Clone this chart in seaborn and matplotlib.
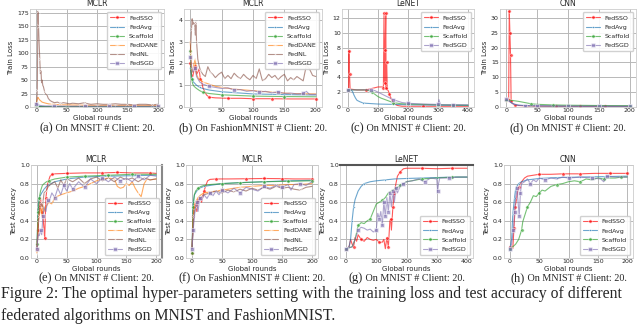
import matplotlib
matplotlib.use("Agg")
import matplotlib.pyplot as plt
import seaborn as sns

# ---------------- data ----------------
# (a) MCLR / MNIST train loss
a_sso_x = [0, 3, 6, 10, 20, 50, 200]
a_sso_y = [1.5, 1.0, 0.7, 0.5, 0.4, 0.3, 0.3]
a_avg_x = [0, 3, 6, 10, 20, 50, 200]
a_avg_y = [2.0, 1.3, 1.0, 0.8, 0.7, 0.6, 0.5]
a_scaf_x = [0, 3, 6, 10, 20, 50, 200]
a_scaf_y = [1.8, 0.9, 0.6, 0.5, 0.45, 0.4, 0.35]
a_dane_x = [0, 2, 3, 4, 6, 8, 10, 13, 16, 20, 25, 30, 40, 50, 70, 100, 130, 160, 200]
a_dane_y = [6, 14, 18, 16, 13, 11, 9, 8, 7, 6, 5, 5, 4, 4, 3.5, 3, 3, 3, 3]
a_nl_x = [0, 1, 2, 3, 4, 5, 6, 7, 8, 9, 10, 11, 12, 14, 16, 18, 20, 23, 26, 30, 35, 40, 45, 50, 55,
          60, 70, 80, 85, 90, 100, 110, 120, 130, 140, 150, 160, 170, 180, 190, 200]
a_nl_y = [3, 8, 32, 178, 150, 118, 90, 62, 68, 45, 50, 40, 38, 28, 24, 22, 16, 12, 10, 8, 9, 7, 8, 7, 6,
          7, 6, 8, 6, 5, 6, 5, 5, 6, 5, 5, 4, 5, 5, 4, 5]
a_sgd_x = [0, 2, 4, 6, 10, 15, 20, 30, 50, 80, 120, 160, 200]
a_sgd_y = [6, 5, 4, 3, 2.5, 2, 2, 1.8, 1.6, 1.5, 1.5, 1.4, 1.4]

# (b) MCLR / FashionMNIST train loss
b_sso_x = [0, 2, 4, 6, 8, 10, 12, 14, 16, 18, 20, 23, 26, 30, 40, 60, 80, 100, 130, 160, 200]
b_sso_y = [2.0, 1.5, 1.4, 1.7, 1.9, 1.5, 1.6, 1.75, 1.3, 1.2, 0.9, 0.7, 0.55, 0.45, 0.42, 0.4, 0.4,
           0.38, 0.38, 0.37, 0.37]
b_avg_x = [0, 2, 5, 10, 15, 20, 30, 50, 75, 100, 150, 200]
b_avg_y = [1.8, 1.4, 1.15, 1.0, 0.9, 0.85, 0.78, 0.7, 0.65, 0.6, 0.57, 0.55]
b_scaf_x = [0, 1, 2, 4, 6, 10, 15, 20, 30, 50, 100, 150, 200]
b_scaf_y = [2.55, 1.8, 1.3, 1.05, 0.95, 0.85, 0.75, 0.68, 0.62, 0.56, 0.5, 0.48, 0.47]
b_dane_x = [0, 2, 4, 6, 8, 10, 13, 16, 20, 25, 30, 40, 50, 70, 100, 130, 160, 200]
b_dane_y = [3.0, 1.8, 1.6, 2.0, 2.2, 1.5, 1.3, 1.25, 1.15, 1.1, 1.05, 0.95, 0.9, 0.82, 0.75, 0.68, 0.62, 0.6]
b_nl_x = [0, 1, 2, 3, 4, 5, 6, 7, 8, 9, 10, 12, 14, 16, 18, 20, 24, 28, 32, 36, 40,
          45, 50, 55, 60, 65, 70, 75, 80, 85, 90, 95, 100, 105, 110, 115, 120, 125, 130, 135, 140,
          145, 150, 155, 160, 165, 170, 175, 180, 185, 190, 195, 200]
b_nl_y = [2.5, 3.0, 3.6, 4.05, 3.8, 3.9, 3.8, 3.85, 3.3, 3.9, 3.0, 2.2, 1.9, 1.7, 1.6, 1.5, 1.4, 1.85,
          1.6, 1.5, 1.35,
          1.5, 1.6, 1.3, 1.45, 1.3, 1.55, 1.4, 1.3, 1.5, 1.35, 1.25, 1.45, 1.3, 1.75, 1.2, 1.3, 1.5,
          1.35, 1.45, 1.25, 1.4, 1.5, 1.2, 1.35, 1.25, 1.4, 1.3, 1.2, 1.9, 1.75, 1.45, 1.4]
b_sgd_x = [0, 2, 4, 6, 8, 10, 15, 20, 25, 30, 40, 50, 60, 70, 80, 90, 100, 110, 120, 130, 140, 150,
           160, 170, 180, 185, 190, 200]
b_sgd_y = [2.3, 1.9, 1.6, 1.7, 1.8, 1.4, 1.15, 1.05, 1.0, 0.95, 0.9, 0.85, 0.88, 0.78, 0.8, 0.72, 0.75,
           0.68, 0.72, 0.65, 0.7, 0.62, 0.64, 0.6, 0.62, 0.72, 0.58, 0.58]

# (c) LeNET / MNIST train loss
c_sso_x = [0, 2, 3, 5, 7, 10, 30, 60, 80, 100, 115, 118, 120, 122, 124, 126, 127, 129, 131, 134, 138,
           145, 155, 165, 180, 200, 250, 300, 350, 400]
c_sso_y = [2.3, 2.4, 7.6, 4.5, 2.4, 2.4, 2.3, 2.3, 2.5, 2.7, 2.7, 2.6, 12.7, 3.2, 7.7, 12.6, 2.5, 6.0,
           2.3, 2.2, 1.8, 1.0, 0.4, 0.2, 0.1, 0.1, 0.1, 0.1, 0.1, 0.1]
c_avg_x = [0, 10, 15, 20, 25, 30, 40, 50, 60, 80, 100, 150, 200, 250, 300, 350, 400]
c_avg_y = [2.3, 2.3, 2.1, 1.6, 1.2, 0.9, 0.7, 0.55, 0.5, 0.45, 0.4, 0.35, 0.3, 0.28, 0.25, 0.22, 0.2]
c_scaf_x = [0, 30, 60, 70, 80, 90, 100, 110, 120, 130, 150, 175, 200, 250, 300, 350, 400]
c_scaf_y = [2.3, 2.3, 2.3, 2.2, 2.0, 1.7, 1.4, 1.2, 1.05, 0.9, 0.6, 0.45, 0.4, 0.35, 0.3, 0.28, 0.25]
c_sgd_x = [0, 30, 60, 75, 90, 100, 110, 120, 130, 140, 150, 165, 180, 200, 250, 300, 303, 306, 310,
           350, 400]
c_sgd_y = [2.3, 2.3, 2.3, 2.3, 2.2, 2.0, 1.8, 1.6, 1.4, 1.2, 1.0, 0.8, 0.6, 0.5, 0.4, 0.35, 1.0, 0.6,
           0.3, 0.3, 0.3]

# (d) CNN / MNIST train loss
d_sso_x = [0, 2, 4, 5, 6, 7, 8, 10, 15, 20, 30, 50, 80, 120, 160, 200]
d_sso_y = [2.3, 2.3, 2.2, 32.3, 25, 17.5, 2.0, 1.2, 0.6, 0.5, 0.4, 0.3, 0.25, 0.2, 0.2, 0.2]
d_avg_x = [0, 5, 10, 15, 20, 30, 50, 100, 150, 200]
d_avg_y = [2.3, 2.0, 1.2, 0.8, 0.6, 0.5, 0.4, 0.3, 0.28, 0.25]
d_scaf_x = [0, 10, 20, 30, 40, 50, 75, 100, 150, 200]
d_scaf_y = [2.3, 2.2, 1.9, 1.5, 1.1, 0.9, 0.7, 0.6, 0.5, 0.45]
d_sgd_x = [0, 3, 6, 10, 15, 20, 30, 50, 100, 150, 200]
d_sgd_y = [2.6, 2.4, 1.8, 1.2, 0.8, 0.6, 0.45, 0.35, 0.3, 0.28, 0.25]

# (e) MCLR / MNIST test accuracy
e_sso_x = [0, 2, 4, 6, 8, 10, 12, 13, 15, 18, 22, 26, 30, 50, 80, 110, 135, 160, 190, 200]
e_sso_y = [0.1, 0.3, 0.55, 0.65, 0.5, 0.45, 0.3, 0.21, 0.65, 0.8, 0.88, 0.9, 0.905, 0.91, 0.915,
           0.915, 0.92, 0.915, 0.915, 0.91]
e_avg_x = [0, 2, 4, 8, 12, 16, 20, 30, 50, 80, 120, 160, 200]
e_avg_y = [0.1, 0.55, 0.65, 0.7, 0.74, 0.77, 0.79, 0.82, 0.85, 0.87, 0.88, 0.885, 0.89]
e_scaf_x = [0, 2, 4, 6, 9, 12, 16, 20, 30, 50, 80, 120, 160, 200]
e_scaf_y = [0.15, 0.5, 0.65, 0.72, 0.78, 0.8, 0.82, 0.83, 0.85, 0.87, 0.88, 0.89, 0.9, 0.9]
e_dane_x = [0, 2, 4, 6, 8, 10, 12, 15, 20, 25, 30, 40, 50, 60, 70, 80, 90, 100, 110, 120, 130,
            135, 140, 145, 150, 155, 160, 165, 170, 175, 180, 185, 190, 200]
e_dane_y = [0.05, 0.4, 0.48, 0.55, 0.45, 0.58, 0.5, 0.55, 0.6, 0.58, 0.65, 0.68, 0.7, 0.72, 0.75,
            0.77, 0.8, 0.83, 0.85, 0.86, 0.85, 0.77, 0.75, 0.76, 0.8, 0.78, 0.82, 0.75, 0.7, 0.66,
            0.8, 0.85, 0.84, 0.85]
e_nl_x = [0, 3, 6, 9, 12, 15, 20, 25, 30, 35, 40, 45, 50, 60, 70, 80, 90, 100, 110, 120, 130, 140,
          150, 160, 170, 180, 190, 200]
e_nl_y = [0.1, 0.45, 0.6, 0.55, 0.7, 0.72, 0.78, 0.8, 0.82, 0.75, 0.84, 0.78, 0.85, 0.82, 0.86, 0.8,
          0.85, 0.87, 0.83, 0.86, 0.82, 0.87, 0.84, 0.86, 0.82, 0.86, 0.84, 0.85]
e_sgd_x = [0, 2, 4, 6, 8, 10, 12, 15, 18, 20, 25, 30, 35, 40, 45, 50, 55, 60, 70, 80, 90, 100, 110,
           120, 130, 140, 150, 160, 170, 180, 190, 200]
e_sgd_y = [0.1, 0.25, 0.24, 0.3, 0.25, 0.45, 0.55, 0.5, 0.62, 0.6, 0.7, 0.65, 0.75, 0.68, 0.78, 0.72,
           0.8, 0.74, 0.82, 0.76, 0.85, 0.8, 0.86, 0.82, 0.87, 0.83, 0.86, 0.82, 0.88, 0.84, 0.89, 0.88]

# (f) MCLR / FashionMNIST test accuracy
f_sso_x = [0, 2, 4, 6, 8, 10, 13, 16, 20, 23, 26, 30, 40, 60, 90, 120, 150, 170, 200]
f_sso_y = [0.05, 0.45, 0.55, 0.6, 0.5, 0.62, 0.65, 0.6, 0.72, 0.78, 0.83, 0.845, 0.85, 0.85, 0.852,
           0.855, 0.853, 0.85, 0.85]
f_avg_x = [0, 2, 4, 8, 12, 20, 30, 50, 80, 120, 160, 200]
f_avg_y = [0.1, 0.6, 0.68, 0.72, 0.75, 0.77, 0.78, 0.8, 0.81, 0.82, 0.83, 0.835]
f_scaf_x = [0, 2, 4, 6, 10, 15, 20, 30, 50, 80, 120, 160, 200]
f_scaf_y = [0.05, 0.55, 0.68, 0.72, 0.75, 0.77, 0.78, 0.79, 0.8, 0.81, 0.82, 0.825, 0.83]
f_dane_x = [0, 2, 4, 6, 10, 15, 20, 30, 40, 60, 80, 100, 120, 140, 160, 180, 200]
f_dane_y = [0.1, 0.45, 0.55, 0.6, 0.65, 0.68, 0.7, 0.71, 0.72, 0.74, 0.76, 0.77, 0.78, 0.78, 0.79,
            0.79, 0.8]
f_nl_x = [0, 3, 6, 10, 15, 20, 30, 40, 50, 60, 70, 80, 90, 100, 110, 120, 130, 140, 150, 160, 170,
          180, 190, 200]
f_nl_y = [0.1, 0.45, 0.55, 0.62, 0.65, 0.68, 0.7, 0.72, 0.7, 0.73, 0.71, 0.74, 0.72, 0.75, 0.73, 0.76,
          0.74, 0.77, 0.75, 0.76, 0.74, 0.73, 0.76, 0.77]
f_sgd_x = [0, 2, 4, 6, 8, 10, 13, 16, 20, 25, 30, 35, 40, 45, 50, 60, 70, 80, 90, 100, 110, 120, 130,
           140, 150, 160, 165, 170, 180, 190, 200]
f_sgd_y = [0.1, 0.3, 0.45, 0.55, 0.6, 0.5, 0.65, 0.62, 0.68, 0.64, 0.7, 0.67, 0.72, 0.68, 0.73, 0.7,
           0.75, 0.7, 0.76, 0.74, 0.72, 0.77, 0.75, 0.78, 0.76, 0.79, 0.73, 0.79, 0.8, 0.78, 0.82]

# (g) LeNET / MNIST test accuracy
g_sso_x = [0, 10, 15, 20, 25, 30, 35, 40, 50, 60, 70, 80, 90, 100, 110, 120, 125, 130, 135, 140, 145,
           148, 150, 155, 160, 165, 170, 180, 190, 200, 250, 300, 350, 400]
g_sso_y = [0.1, 0.12, 0.2, 0.15, 0.12, 0.22, 0.18, 0.25, 0.2, 0.18, 0.22, 0.2, 0.19, 0.2, 0.17, 0.17,
           0.2, 0.1, 0.22, 0.12, 0.4, 0.42, 0.3, 0.55, 0.7, 0.8, 0.88, 0.93, 0.96, 0.965, 0.965, 0.96,
           0.965, 0.965]
g_avg_x = [0, 10, 15, 20, 25, 30, 40, 50, 60, 80, 100, 130, 160, 200, 250, 300, 350, 400]
g_avg_y = [0.1, 0.12, 0.2, 0.4, 0.55, 0.63, 0.72, 0.77, 0.8, 0.82, 0.83, 0.84, 0.85, 0.855, 0.86,
           0.865, 0.87, 0.87]
g_scaf_x = [0, 20, 30, 40, 50, 60, 70, 80, 90, 100, 110, 120, 130, 140, 150, 160, 180, 200, 250, 300,
            350, 400]
g_scaf_y = [0.1, 0.12, 0.2, 0.35, 0.38, 0.37, 0.4, 0.42, 0.5, 0.58, 0.6, 0.62, 0.65, 0.7, 0.72, 0.74,
            0.78, 0.82, 0.85, 0.86, 0.87, 0.87]
g_sgd_x = [0, 20, 30, 40, 50, 60, 70, 80, 90, 100, 105, 110, 115, 120, 125, 130, 135, 140, 145, 150,
           155, 160, 165, 170, 180, 190, 200, 220, 240, 260, 280, 300, 303, 306, 310, 340, 370, 400]
g_sgd_y = [0.1, 0.12, 0.2, 0.3, 0.33, 0.32, 0.3, 0.31, 0.28, 0.3, 0.48, 0.42, 0.5, 0.35, 0.6, 0.45,
           0.65, 0.5, 0.7, 0.55, 0.72, 0.6, 0.75, 0.7, 0.78, 0.8, 0.82, 0.83, 0.85, 0.82, 0.86, 0.85,
           0.72, 0.8, 0.86, 0.86, 0.87, 0.87]

# (h) CNN / MNIST test accuracy
h_sso_x = [0, 3, 5, 7, 9, 11, 13, 15, 20, 25, 30, 40, 50, 70, 90, 120, 145, 170, 200]
h_sso_y = [0.12, 0.11, 0.1, 0.32, 0.55, 0.62, 0.7, 0.76, 0.82, 0.86, 0.88, 0.89, 0.9, 0.9, 0.905,
           0.905, 0.91, 0.91, 0.91]
h_avg_x = [0, 3, 5, 8, 10, 15, 20, 30, 50, 80, 120, 160, 200]
h_avg_y = [0.1, 0.2, 0.47, 0.65, 0.75, 0.8, 0.82, 0.84, 0.855, 0.865, 0.87, 0.875, 0.88]
h_scaf_x = [0, 5, 10, 15, 20, 22, 25, 30, 35, 40, 45, 50, 55, 60, 70, 80, 90, 100, 110, 120, 130, 140,
            150, 160, 170, 180, 190, 200]
h_scaf_y = [0.1, 0.12, 0.15, 0.2, 0.3, 0.39, 0.45, 0.55, 0.6, 0.67, 0.66, 0.7, 0.73, 0.72, 0.77, 0.79,
            0.8, 0.82, 0.83, 0.82, 0.85, 0.84, 0.86, 0.85, 0.86, 0.86, 0.87, 0.87]
h_sgd_x = [0, 3, 6, 8, 10, 12, 14, 16, 18, 20, 25, 30, 35, 40, 45, 50, 60, 70, 80, 90, 100, 120, 140,
           155, 160, 165, 180, 200]
h_sgd_y = [0.1, 0.15, 0.3, 0.5, 0.65, 0.75, 0.6, 0.45, 0.7, 0.8, 0.82, 0.85, 0.8, 0.84, 0.82, 0.86,
           0.84, 0.86, 0.85, 0.87, 0.86, 0.87, 0.86, 0.85, 0.82, 0.88, 0.87, 0.87]

sub_captions = ["(a)", "(b)", "(c)", "(d)", "(e)", "(f)", "(g)", "(h)"]
sub_texts = ["On MNSIT # Client: 20.", "On FashionMNIST # Client: 20.", "On MNIST # Client: 20.",
             "On MNIST # Client: 20.", "On MNIST # Client: 20.", "On FashionMNIST # Client: 20.",
             "On MNIST # Client: 20.", "On MNIST # Client: 20."]
titles = ["MCLR", "MCLR", "LeNET", "CNN", "MCLR", "MCLR", "LeNET", "CNN"]

# ---------------- styling ----------------
sns.set_theme(style="whitegrid")
plt.rcParams['font.family'] = ['DejaVu Sans']

STYLE = {
    "FedSSO": dict(color="red", marker="o"),
    "FedAvg": dict(color="tab:blue", marker="."),
    "Scaffold": dict(color="tab:green", marker="o"),
    "FedDANE": dict(color="tab:orange", marker="+"),
    "FedNL": dict(color="tab:brown", marker="x"),
    "FedSGD": dict(color="m", marker="s"),
}

fig = plt.figure(figsize=(6.4, 3.26), dpi=100)
W, H = 640.0, 326.0

# axes boxes in pixels: left, right, top, bottom
boxes = [(30, 164, 9, 107), (184, 322, 9, 107), (342, 474, 9, 107), (500, 636, 9, 107),
         (31, 162, 165, 258), (186, 318, 165, 258), (340, 473, 165, 258), (504, 633, 165, 258)]
axes = []
for l, r, t, b in boxes:
    axes.append(fig.add_axes([l / W, 1 - b / H, (r - l) / W, (b - t) / H]))

panels = [
    [("FedSSO", a_sso_x, a_sso_y), ("FedAvg", a_avg_x, a_avg_y), ("Scaffold", a_scaf_x, a_scaf_y),
     ("FedDANE", a_dane_x, a_dane_y), ("FedNL", a_nl_x, a_nl_y), ("FedSGD", a_sgd_x, a_sgd_y)],
    [("FedSSO", b_sso_x, b_sso_y), ("FedAvg", b_avg_x, b_avg_y), ("Scaffold", b_scaf_x, b_scaf_y),
     ("FedDANE", b_dane_x, b_dane_y), ("FedNL", b_nl_x, b_nl_y), ("FedSGD", b_sgd_x, b_sgd_y)],
    [("FedSSO", c_sso_x, c_sso_y), ("FedAvg", c_avg_x, c_avg_y), ("Scaffold", c_scaf_x, c_scaf_y),
     ("FedSGD", c_sgd_x, c_sgd_y)],
    [("FedSSO", d_sso_x, d_sso_y), ("FedAvg", d_avg_x, d_avg_y), ("Scaffold", d_scaf_x, d_scaf_y),
     ("FedSGD", d_sgd_x, d_sgd_y)],
    [("FedSSO", e_sso_x, e_sso_y), ("FedAvg", e_avg_x, e_avg_y), ("Scaffold", e_scaf_x, e_scaf_y),
     ("FedDANE", e_dane_x, e_dane_y), ("FedNL", e_nl_x, e_nl_y), ("FedSGD", e_sgd_x, e_sgd_y)],
    [("FedSSO", f_sso_x, f_sso_y), ("FedAvg", f_avg_x, f_avg_y), ("Scaffold", f_scaf_x, f_scaf_y),
     ("FedDANE", f_dane_x, f_dane_y), ("FedNL", f_nl_x, f_nl_y), ("FedSGD", f_sgd_x, f_sgd_y)],
    [("FedSSO", g_sso_x, g_sso_y), ("FedAvg", g_avg_x, g_avg_y), ("Scaffold", g_scaf_x, g_scaf_y),
     ("FedSGD", g_sgd_x, g_sgd_y)],
    [("FedSSO", h_sso_x, h_sso_y), ("FedAvg", h_avg_x, h_avg_y), ("Scaffold", h_scaf_x, h_scaf_y),
     ("FedSGD", h_sgd_x, h_sgd_y)],
]
ylims = [(0, 182), (0, 4.5), (0, 13.2), (0, 33), (0, 1.0), (0, 1.0), (0, 1.0), (0, 1.0)]
yticks = [range(0, 176, 25), range(0, 5), range(0, 13, 2), range(0, 31, 5),
          [0, .2, .4, .6, .8, 1.0], [0, .2, .4, .6, .8, 1.0], [0, .2, .4, .6, .8, 1.0], [0, .2, .4, .6, .8, 1.0]]

for i, (ax, series) in enumerate(zip(axes, panels)):
    for name, xs, ys in series:
        st = STYLE[name]
        sns.lineplot(x=xs, y=ys, ax=ax, label=name, color=st["color"], marker=st["marker"],
                     markevery=0.14, markersize=2.5, markeredgewidth=0.5, linewidth=0.8,
                     alpha=0.65, estimator=None, sort=False)
    ax.set_ylim(*ylims[i])
    ax.set_yticks(list(yticks[i]))
    if i in (2, 6):
        ax.set_xticks([0, 100, 200, 300, 400])
    else:
        ax.set_xticks([0, 50, 100, 150, 200])
    ax.set_title(titles[i], fontsize=5.5, pad=2)
    ax.set_xlabel("Global rounds", fontsize=5, labelpad=1)
    ax.set_ylabel("Train Loss" if i < 4 else "Test Accuracy", fontsize=5, labelpad=2)
    ax.tick_params(labelsize=4.5, pad=1, length=0)
    ax.grid(True, color="#b8b8b8", linewidth=0.7)
    for sp in ax.spines.values():
        sp.set_color("#cccccc")
        sp.set_linewidth(0.6)
    ax.legend(loc="upper right" if i < 4 else "lower right", fontsize=4.5, frameon=True,
              handlelength=2.2, borderpad=0.5, labelspacing=0.6, framealpha=0.9)

# border artefacts of the scanned panels
axes[4].spines["right"].set_color("#888888")
axes[4].spines["right"].set_linewidth(1.5)
axes[6].spines["top"].set_color("#555555")
axes[6].spines["top"].set_linewidth(1.5)

# sub-captions
renderer = fig.canvas.get_renderer()
cap_y = [131, 131, 131, 131, 281, 281, 281, 281]
for i, (l, r, t, b) in enumerate(boxes):
    t1 = fig.text(0, 1 - cap_y[i] / H, sub_captions[i], fontsize=9, family="Liberation Serif",
                  va="baseline")
    t2 = fig.text(0, 1 - cap_y[i] / H, " " + sub_texts[i], fontsize=7.3, family="Liberation Serif",
                  va="baseline")
    w1 = t1.get_window_extent(renderer).width / W
    w2 = t2.get_window_extent(renderer).width / W
    x0 = (l + r) / 2 / W - (w1 + w2) / 2
    t1.set_x(x0)
    t2.set_x(x0 + w1)

fig.text(1 / W, 1 - 298 / H, "Figure 2: The optimal hyper-parameters setting with the training loss and "
         "test accuracy of different", fontsize=11.35, family="Liberation Serif", va="baseline")
fig.text(1 / W, 1 - 320 / H, "federated algorithms on MNIST and FashionMNIST.", fontsize=11.35,
         family="Liberation Serif", va="baseline")

fig.savefig("out.png", dpi=100)
